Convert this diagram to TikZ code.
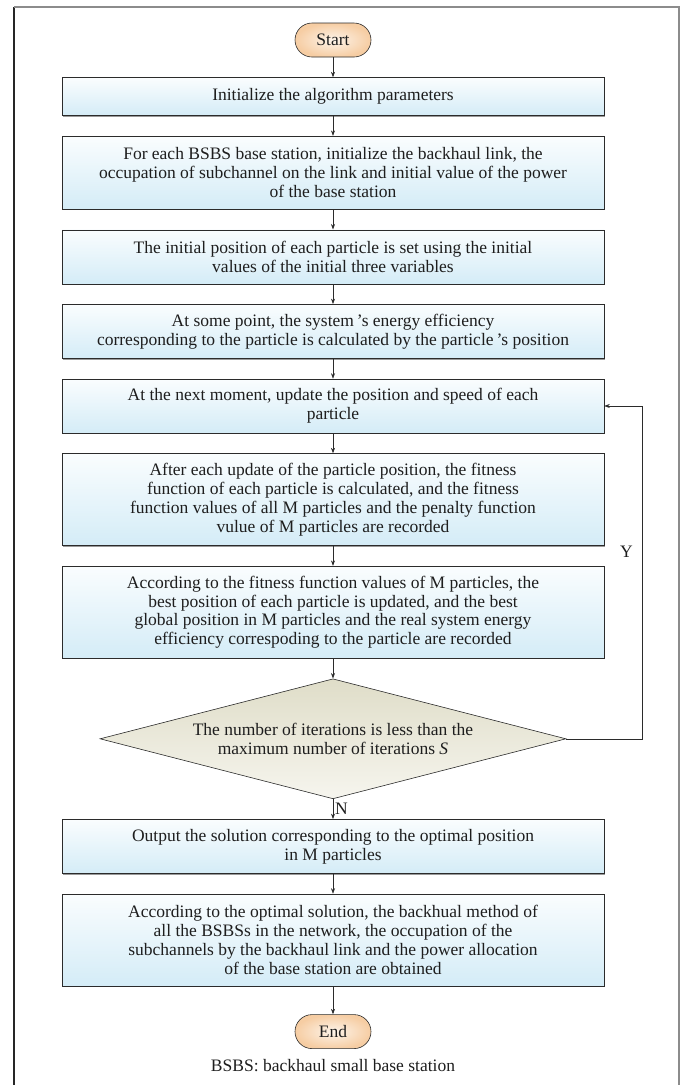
\documentclass[tikz,border=0pt]{standalone}
\usepackage{fontspec}
\setmainfont{Liberation Serif}
\usetikzlibrary{arrows.meta,positioning,shapes.geometric,shadows,calc}

\definecolor{boxtop}{HTML}{FAFDFE}
\definecolor{boxbot}{HTML}{D4ECF7}
\definecolor{termin}{HTML}{FDF4EA}
\definecolor{termout}{HTML}{F6CDA3}
\definecolor{dectop}{HTML}{DFDDC8}
\definecolor{decbot}{HTML}{F6F5EE}
\definecolor{edge}{HTML}{2B2B2B}
\definecolor{ink}{HTML}{1E1E1E}

\begin{document}
\begin{tikzpicture}[x=1pt,y=1pt,
  node distance=20pt,
  every node/.style={font=\fontsize{17.5}{18.8}\selectfont, text=ink},
  boxshadow/.style={general shadow={shadow xshift=1.2pt, shadow yshift=-1.2pt, fill=black!40}},
  stepbox/.style={draw=edge, line width=0.6pt, top color=boxtop, bottom color=boxbot,
    minimum width=542pt, align=center, inner sep=0pt, boxshadow},
  one/.style={stepbox, minimum height=38pt},
  two/.style={stepbox, minimum height=54pt},
  three/.style={stepbox, minimum height=73pt},
  four/.style={stepbox, minimum height=92pt},
  terminal/.style={draw=edge, line width=0.6pt, rounded corners=17pt,
    minimum width=76pt, minimum height=34pt, inner sep=0pt,
    inner color=termin, outer color=termout},
  decision/.style={diamond, draw=edge, line width=0.6pt, aspect=3.9,
    minimum width=466pt, minimum height=120pt, inner sep=0pt,
    top color=dectop, bottom color=decbot},
  arr/.style={draw=edge, line width=0.6pt, -{Stealth[length=5.5pt,width=4pt]}},
  tag/.style={inner sep=1pt}
]
\useasboundingbox (0,0) rectangle (681,-1085);

% page frame
\draw[black!85, line width=1.2pt] (14,-7) -- (14,-1085);
\draw[black!45, line width=1.2pt] (14,-7) -- (679,-7) -- (679,-1085);

% flow nodes
\node[terminal] (start) at (333,-40) {Start};
\node[one, below=of start] (b1)
  {Initialize the algorithm parameters};
\node[three, below=of b1] (b2)
  {For each BSBS base station, initialize the backhaul link, the\\
   occupation of subchannel on the link and initial value of the power\\
   of the base station};
\node[two, below=of b2] (b3)
  {The initial position of each particle is set using the initial\\
   values of the initial three variables};
\node[two, below=of b3] (b4)
  {At some point, the system\,’s energy efficiency\\
   corresponding to the particle is calculated by the particle\,’s position};
\node[two, below=of b4] (b5)
  {At the next moment, update the position and speed of each\\
   particle};
\node[four, below=of b5] (b6)
  {After each update of the particle position, the fitness\\
   function of each particle is calculated, and the fitness\\
   function values of all M particles and the penalty function\\
   vulue of M particles are recorded};
\node[four, below=of b6] (b7)
  {According to the fitness function values of M particles, the\\
   best position of each particle is updated, and the best\\
   global position in M particles and the real system energy\\
   efficiency correspoding to the particle are recorded};
\node[decision, below=of b7] (dec) {};
\node[align=center, inner sep=0pt] (dectext) at (dec.center)
  {The number of iterations is less than the\\
   maximum number of iterations \textit{S}};
\node[two, below=of dec] (b8)
  {Output the solution corresponding to the optimal position\\
   in M particles};
\node[four, below=of b8] (b9)
  {According to the optimal solution, the backhual method of\\
   all the BSBSs in the network, the occupation of the\\
   subchannels by the backhaul link and the power allocation\\
   of the base station are obtained};
\node[terminal, below=28pt of b9] (end) {End};
\node (note) at (333,-1066) {BSBS: backhaul small base station};

% connectors
\draw[arr] (start) -- (b1);
\draw[arr] (b1) -- (b2);
\draw[arr] (b2) -- (b3);
\draw[arr] (b3) -- (b4);
\draw[arr] (b4) -- (b5);
\draw[arr] (b5) -- (b6);
\draw[arr] (b6) -- (b7);
\draw[arr] (b7) -- (dec.north);
\draw[arr] (dec.south) -- (b8);
\draw[arr] (b8) -- (b9);
\draw[arr] (b9) -- (end);

% loop back while iterations remain
\coordinate (rail) at (642,0);
\draw[arr] (dec.east) -- (dec.east -| rail) -- (b5.east -| rail) -- (b5.east);
\node[tag, anchor=east] (ylab) at ($(b6.south -| rail)+(-8,-6)$) {Y};
\node[tag, anchor=west] (nlab) at ($(dec.south)!0.5!(b8.north)+(1,0)$) {N};
\end{tikzpicture}
\end{document}
